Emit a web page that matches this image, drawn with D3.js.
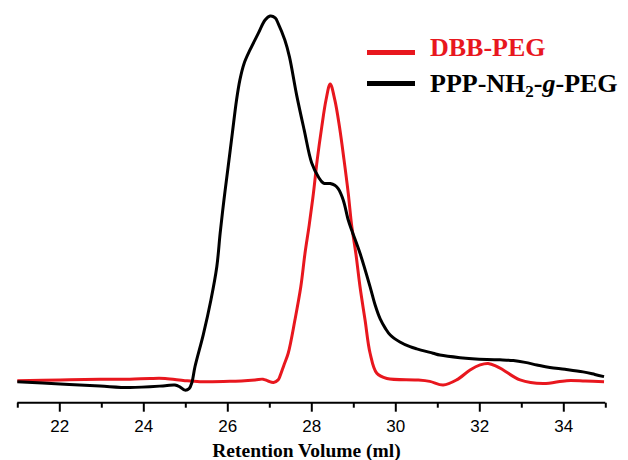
<!DOCTYPE html>
<html>
<head>
<meta charset="utf-8">
<script src="https://cdn.jsdelivr.net/npm/d3@7/dist/d3.min.js"></script>
<style>
  html, body { margin: 0; padding: 0; background: #fff; }
  svg { display: block; }
</style>
</head>
<body>
<svg id="chart" width="628" height="460"></svg>
<script>
// Retention volume (ml) and normalised detector signal
const blackX = [21.00,22.02,22.97,23.68,24.52,24.75,24.87,24.99,25.09,25.16,25.23,25.43,25.61,25.75,25.83,25.92,26.02,26.12,26.22,26.30,26.40,26.54,26.74,26.90,27.02,27.14,27.21,27.37,27.48,27.65,27.83,28.01,28.17,28.29,28.45,28.56,28.64,28.76,28.88,28.96,29.16,29.40,29.52,29.64,29.76,29.88,30.11,30.35,30.51,30.90,31.06,31.54,32.18,32.49,32.81,33.09,33.37,33.68,34.04,34.47,34.75,34.97];
const blackY = [-0.2,-0.8,-1.4,-1.8,-1.3,-1.1,-1.6,-2.5,-2.1,-0.3,3.9,12.8,22.2,31.3,40.5,49.6,58.7,67.9,77.0,82.5,87.0,90.7,95.3,98.9,100,99.5,98.0,93.4,88.8,78.4,68.8,59.7,55.9,54.2,54.1,53.6,52.7,49.6,44.1,41.4,35.0,25.8,20.8,17.0,14.5,12.6,10.7,9.4,8.8,7.6,7.1,6.4,5.9,5.8,5.6,5.1,4.4,3.7,3.2,2.5,1.8,1.2];
const redX = [21.00,22.02,22.97,23.68,24.16,24.52,24.99,25.35,26.06,26.66,26.85,26.97,27.10,27.21,27.25,27.35,27.45,27.61,27.75,27.85,27.95,28.05,28.14,28.25,28.35,28.45,28.56,28.67,28.78,28.88,28.96,29.06,29.16,29.28,29.40,29.56,29.80,30.51,30.82,31.14,31.46,31.78,32.02,32.21,32.40,32.57,32.97,33.52,34.08,34.52,34.97];
const redY = [0.1,0.3,0.5,0.5,0.7,0.7,0.1,-0.2,-0.1,0.3,0.5,0,-0.4,0.3,1.2,4.4,7.6,16.7,25.8,35.0,42.7,51.4,60.5,69.7,77.0,81.4,77.0,69.7,60.5,51.4,42.7,35.0,25.8,16.7,7.6,2.1,0.7,0.3,-0.1,-1.1,0.3,3.0,4.4,4.8,4.1,3.0,0.3,-0.7,0.1,0,-0.2];
const majorTicks = [22,24,26,28,30,32,34];
const minorTicks = [21,23,25,27,29,31,33,35];
const seriesNames = ["DBB-PEG", "PPP-NH2-g-PEG"];
const xTitle = "Retention Volume (ml)";

const RED = "#e8171e";
const svg = d3.select("#chart");

const x = d3.scaleLinear().domain([21, 35]).range([17.3, 605.3]);
const y = d3.scaleLinear().domain([0, 100]).range([381, 16]);

const line = d3.line().x(d => x(d[0])).y(d => y(d[1])).curve(d3.curveCatmullRom.alpha(0.5));

const black = blackX.map((v, i) => [v, blackY[i]]);
const red = redX.map((v, i) => [v, redY[i]]);

svg.append("path").datum(red).attr("d", line)
  .attr("fill", "none").attr("stroke", RED).attr("stroke-width", 3).attr("stroke-linejoin", "round");
svg.append("path").datum(black).attr("d", line)
  .attr("fill", "none").attr("stroke", "#000").attr("stroke-width", 3).attr("stroke-linejoin", "round");

// axis
const axisY = 402.7;
const gMinor = svg.append("g").attr("transform", `translate(0,${axisY})`)
  .call(d3.axisBottom(x).tickValues(minorTicks).tickSize(5).tickFormat(""));
gMinor.select(".domain").remove();
gMinor.selectAll("line").attr("stroke", "#000").attr("stroke-width", 2);

const gMajor = svg.append("g").attr("transform", `translate(0,${axisY})`)
  .call(d3.axisBottom(x).tickValues(majorTicks).tickSize(9).tickPadding(8).tickFormat(d3.format("d")));
gMajor.select(".domain").attr("d", `M${x(21)},0H${x(35)}`).attr("stroke", "#000").attr("stroke-width", 2);
gMajor.selectAll("line").attr("stroke", "#000").attr("stroke-width", 2);
gMajor.selectAll("text")
  .attr("font-family", "Liberation Sans, Arial, sans-serif")
  .attr("font-size", 17).attr("fill", "#000");

svg.append("text").attr("x", 306.5).attr("y", 457)
  .attr("text-anchor", "middle")
  .attr("font-family", "Liberation Serif, Times New Roman, serif")
  .attr("font-weight", "bold").attr("font-size", 19.5)
  .text(xTitle);

// legend
const lg = svg.append("g");
lg.append("line").attr("x1", 367).attr("x2", 415).attr("y1", 52.5).attr("y2", 52.5)
  .attr("stroke", RED).attr("stroke-width", 5);
lg.append("line").attr("x1", 367).attr("x2", 415).attr("y1", 83.5).attr("y2", 83.5)
  .attr("stroke", "#000").attr("stroke-width", 5);
lg.append("text").attr("x", 430).attr("y", 56)
  .attr("font-family", "Liberation Serif, Times New Roman, serif")
  .attr("font-weight", "bold").attr("font-size", 26).attr("fill", RED)
  .text(seriesNames[0]);
const t2 = lg.append("text").attr("x", 430).attr("y", 91.5)
  .attr("font-family", "Liberation Serif, Times New Roman, serif")
  .attr("font-weight", "bold").attr("font-size", 26).attr("fill", "#000");
t2.append("tspan").text("PPP-NH");
t2.append("tspan").attr("font-size", 17).attr("dy", 5).text("2");
t2.append("tspan").attr("dy", -5).text("-");
t2.append("tspan").attr("font-style", "italic").text("g");
t2.append("tspan").text("-PEG");
</script>
</body>
</html>
